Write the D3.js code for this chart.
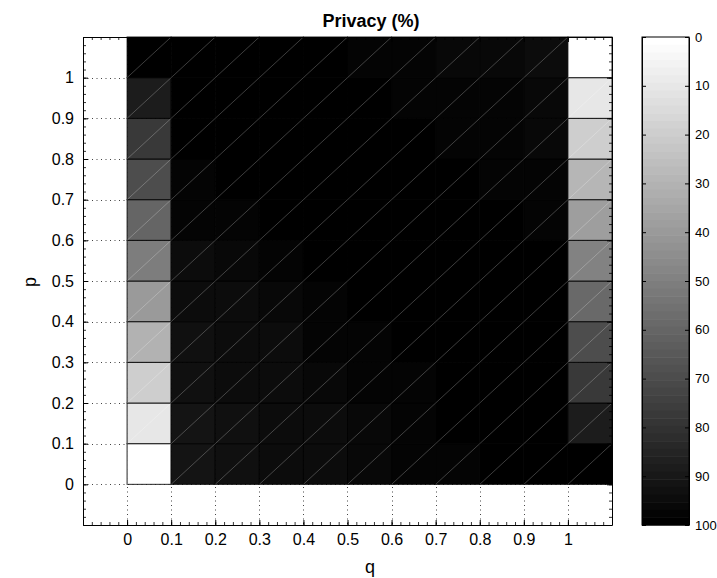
<!DOCTYPE html>
<html>
<head>
<meta charset="utf-8">
<script src="https://cdn.jsdelivr.net/npm/d3@7"></script>
<style>
  html, body { margin: 0; padding: 0; background: #fff; }
  svg { display: block; font-family: "Liberation Sans", Arial, Helvetica, sans-serif; }
</style>
</head>
<body>
<svg id="chart" width="717" height="578"></svg>
<script>
// ---- data ----
const qValues = [0, 0.1, 0.2, 0.3, 0.4, 0.5, 0.6, 0.7, 0.8, 0.9, 1];
const pValues = [0, 0.1, 0.2, 0.3, 0.4, 0.5, 0.6, 0.7, 0.8, 0.9, 1];
// privacy (%) rows indexed by p (bottom to top), columns by q (left to right)
const privacyP00 = [0, 92, 93, 94, 95, 96, 97, 98, 99, 99, 100];
const privacyP01 = [10, 92, 93, 94, 95, 96, 98, 99, 99, 100, 89];
const privacyP02 = [20, 93, 94, 95, 96, 97, 98, 99, 100, 100, 77];
const privacyP03 = [30, 93, 94, 95, 97, 98, 99, 100, 100, 100, 69];
const privacyP04 = [40, 94, 95, 96, 98, 99, 100, 100, 100, 99, 59];
const privacyP05 = [50, 95, 96, 98, 99, 100, 100, 100, 99, 99, 49];
const privacyP06 = [60, 97, 98, 99, 100, 100, 100, 99, 99, 98, 39];
const privacyP07 = [69, 98, 99, 100, 100, 100, 99, 99, 98, 97, 29];
const privacyP08 = [77, 99, 100, 100, 100, 99, 99, 98, 97, 96, 19];
const privacyP09 = [89, 100, 100, 100, 99, 99, 98, 97, 97, 96, 10];
const privacyP10 = [100, 100, 100, 99, 99, 98, 97, 96, 96, 95, 0];
const privacyRows = [privacyP00, privacyP01, privacyP02, privacyP03, privacyP04, privacyP05,
                     privacyP06, privacyP07, privacyP08, privacyP09, privacyP10];
const xTicks = [0, 0.1, 0.2, 0.3, 0.4, 0.5, 0.6, 0.7, 0.8, 0.9, 1];
const yTicks = [0, 0.1, 0.2, 0.3, 0.4, 0.5, 0.6, 0.7, 0.8, 0.9, 1];
const cbTicks = [0, 10, 20, 30, 40, 50, 60, 70, 80, 90, 100];
const titleText = "Privacy (%)";
const xLabel = "q";
const yLabel = "p";

// ---- layout ----
const svg = d3.select("#chart");
const L = 83, R = 612, T = 37, B = 525;
const x = d3.scaleLinear().domain([-0.1, 1.1]).range([L, R]);
const y = d3.scaleLinear().domain([-0.1, 1.1]).range([B, T]);
const cellW = 0.1, cellH = 0.1;

// gray colormap with 64 discrete levels (0 -> white, 100 -> black)
const nLevels = 64;
function grayFor(v) {
  let idx = Math.min(nLevels - 1, Math.floor(v / 100 * nLevels));
  const g = Math.round(255 * (1 - idx / (nLevels - 1)));
  return d3.rgb(g, g, g).toString();
}

// background
svg.append("rect").attr("x", L).attr("y", T).attr("width", R - L).attr("height", B - T).attr("fill", "#fff");

// dotted grid (behind the cells)
const grid = svg.append("g").attr("stroke", "#444").attr("stroke-width", 1).attr("stroke-dasharray", "1,3.5");
grid.selectAll("line.gx").data(xTicks).join("line")
  .attr("x1", d => Math.round(x(d)) + 0.5).attr("x2", d => Math.round(x(d)) + 0.5)
  .attr("y1", T).attr("y2", B);
grid.selectAll("line.gy").data(yTicks).join("line")
  .attr("y1", d => Math.round(y(d)) + 0.5).attr("y2", d => Math.round(y(d)) + 0.5)
  .attr("x1", L).attr("x2", R);

// cells
const cells = [];
privacyRows.forEach((row, i) => row.forEach((v, j) => cells.push({p: pValues[i], q: qValues[j], v})));
const cg = svg.append("g");
cg.selectAll("rect").data(cells).join("rect")
  .attr("x", d => x(d.q)).attr("y", d => y(d.p + cellH))
  .attr("width", d => x(d.q + cellW) - x(d.q)).attr("height", d => y(d.p) - y(d.p + cellH))
  .attr("fill", d => grayFor(d.v))
  .attr("stroke", "#000").attr("stroke-width", 1).attr("stroke-opacity", 0.85);
// cell diagonals
cg.selectAll("line").data(cells).join("line")
  .attr("x1", d => x(d.q)).attr("y1", d => y(d.p))
  .attr("x2", d => x(d.q + cellW)).attr("y2", d => y(d.p + cellH))
  .attr("stroke", "#fff").attr("stroke-opacity", 0.3).attr("stroke-width", 0.8);

// axes
const minorTicks = d3.range(-0.1, 1.1001, 0.02).map(d => +d.toFixed(2));
function styleAxis(g) {
  g.selectAll("path.domain").attr("stroke", "#000").attr("stroke-width", 1);
  g.selectAll(".tick line").attr("stroke", "#000").attr("stroke-width", 1);
  g.selectAll(".tick text").attr("fill", "#000").attr("font-size", 16)
    .attr("font-family", "'Liberation Sans', Arial, sans-serif");
}
const fmt = d => String(d);
svg.append("g").attr("transform", `translate(0,${B})`)
  .call(d3.axisBottom(x).tickValues(xTicks).tickFormat(fmt).tickSizeInner(-5).tickSizeOuter(0).tickPadding(9))
  .call(styleAxis);
svg.append("g").attr("transform", `translate(${L},0)`)
  .call(d3.axisLeft(y).tickValues(yTicks).tickFormat(fmt).tickSizeInner(-5).tickSizeOuter(0).tickPadding(9))
  .call(styleAxis);
svg.append("g").attr("transform", `translate(0,${T})`)
  .call(d3.axisTop(x).tickValues(xTicks).tickFormat("").tickSizeInner(-5).tickSizeOuter(0))
  .call(styleAxis);
svg.append("g").attr("transform", `translate(${R},0)`)
  .call(d3.axisRight(y).tickValues(yTicks).tickFormat("").tickSizeInner(-5).tickSizeOuter(0))
  .call(styleAxis);
// minor ticks
[[d3.axisBottom(x), `translate(0,${B})`], [d3.axisTop(x), `translate(0,${T})`],
 [d3.axisLeft(y), `translate(${L},0)`], [d3.axisRight(y), `translate(${R},0)`]].forEach(([ax, tr]) => {
  svg.append("g").attr("transform", tr)
    .call(ax.tickValues(minorTicks).tickFormat("").tickSizeInner(-3).tickSizeOuter(0))
    .call(g => g.select("path.domain").remove())
    .call(g => g.selectAll(".tick line").attr("stroke", "#000").attr("stroke-width", 0.8));
});

// titles
svg.append("text").attr("x", 371).attr("y", 27).attr("text-anchor", "middle")
  .attr("font-size", 18).attr("font-weight", "bold").text(titleText);
svg.append("text").attr("x", 370).attr("y", 573).attr("text-anchor", "middle")
  .attr("font-size", 18).text(xLabel);
svg.append("text").attr("transform", "translate(36,282) rotate(-90)").attr("text-anchor", "middle")
  .attr("font-size", 18).text(yLabel);

// colorbar
const cbL = 642, cbR = 689;
const cy = d3.scaleLinear().domain([0, 100]).range([T, B]);
const cbLevels = d3.range(nLevels);
svg.append("g").selectAll("rect").data(cbLevels).join("rect")
  .attr("x", cbL).attr("width", cbR - cbL)
  .attr("y", d => cy(d * 100 / nLevels))
  .attr("height", d => cy((d + 1) * 100 / nLevels) - cy(d * 100 / nLevels) + 0.5)
  .attr("fill", d => grayFor((d + 0.5) * 100 / nLevels));
svg.append("g").attr("transform", `translate(${cbR},0)`)
  .call(d3.axisRight(cy).tickValues(cbTicks).tickSizeInner(-4).tickSizeOuter(0).tickPadding(6))
  .call(styleAxis)
  .call(g => g.selectAll(".tick text").attr("font-size", 13));
svg.append("g").attr("transform", `translate(${cbL},0)`)
  .call(d3.axisLeft(cy).tickValues(cbTicks).tickFormat("").tickSizeInner(-4).tickSizeOuter(0))
  .call(styleAxis);
svg.append("rect").attr("x", cbL).attr("y", T).attr("width", cbR - cbL).attr("height", B - T)
  .attr("fill", "none").attr("stroke", "#000").attr("stroke-width", 1);
</script>
</body>
</html>
